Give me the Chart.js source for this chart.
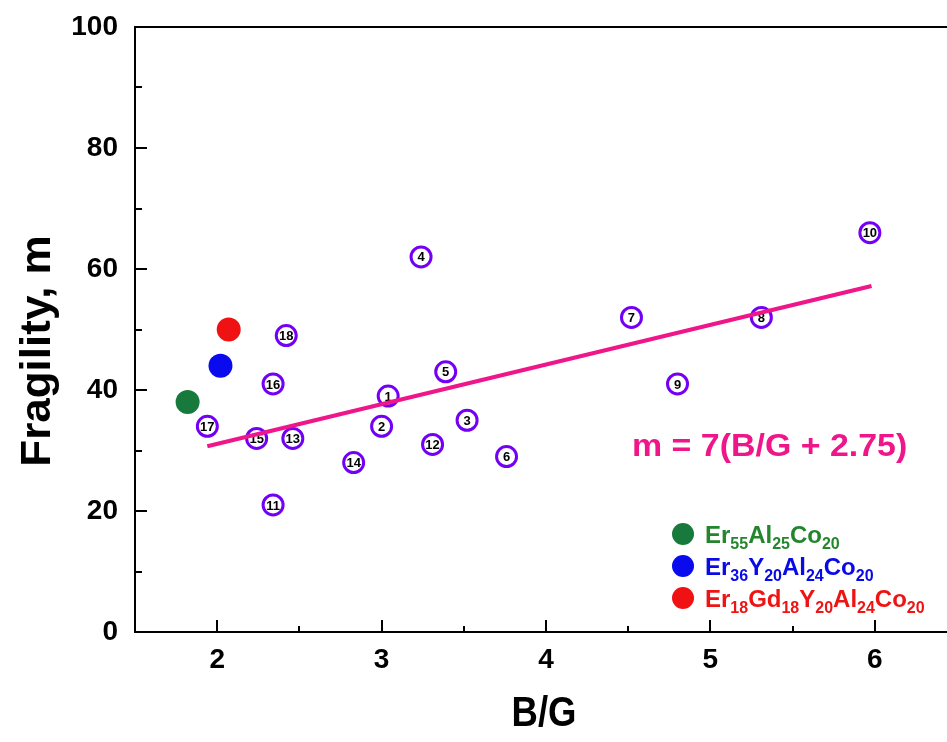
<!DOCTYPE html>
<html>
<head>
<meta charset="utf-8">
<script src="https://cdn.jsdelivr.net/npm/chart.js@4.4.0/dist/chart.umd.min.js"></script>
<style>
html,body{margin:0;padding:0;background:#fff;overflow:hidden;}
#wrap{width:970px;height:742px;}
</style>
</head>
<body>
<div id="wrap"><canvas id="c" width="970" height="742"></canvas></div>
<script>
// numbered samples (B/G, fragility m)
var sampleNo   = [1,2,3,4,5,6,7,8,9,10,11,12,13,14,15,16,17,18];
var sampleBG   = [3.04,3.00,3.52,3.24,3.39,3.76,4.52,5.31,4.80,5.97,2.34,3.31,2.46,2.83,2.24,2.34,1.94,2.42];
var sampleM    = [39,34,35,62,43,29,52,52,41,66,21,31,32,28,32,41,34,49];

// present alloys
var alloyNames = [['Er','55','Al','25','Co','20'],
                  ['Er','36','Y','20','Al','24','Co','20'],
                  ['Er','18','Gd','18','Y','20','Al','24','Co','20']];
var alloyBG    = [1.82,2.02,2.07];
var alloyM     = [38,44,50];
var alloyColor = ['#177a3c','#0a0aee','#f01212'];
var alloyText  = ['#24862c','#0a0ae6','#ee1414'];

// linear fit line end points
var fitBG = [1.94,5.98];
var fitM  = [30.7,57.2];

var xTicks = [2,3,4,5,6];
var yTicks = [0,20,40,60,80,100];

var purple = '#7300f5';
var pink = '#ef168a';

var samplePts = sampleBG.map(function(v,i){return {x:v,y:sampleM[i]};});
var fitPts = fitBG.map(function(v,i){return {x:v,y:fitM[i]};});

var datasets = [{
    type:'line', data:fitPts, borderColor:pink, borderWidth:4,
    pointRadius:0, order:0
},{
    data:samplePts, pointRadius:10, pointBorderWidth:3,
    borderColor:purple, backgroundColor:'#fff', order:1
}];
for(var i=0;i<alloyBG.length;i++){
    datasets.push({
        data:[{x:alloyBG[i],y:alloyM[i]}], pointRadius:12, pointBorderWidth:0,
        backgroundColor:alloyColor[i], borderColor:alloyColor[i], order:2
    });
}

var decor = {
    id:'decor',
    afterDatasetDraw:function(chart,args){
        if(args.index!==1) return;
        var ctx=chart.ctx, xs=chart.scales.x, ys=chart.scales.y;
        ctx.save();
        ctx.fillStyle='#000';
        ctx.font='bold 13px "Liberation Sans", Arial, sans-serif';
        ctx.textAlign='center';
        ctx.textBaseline='middle';
        for(var i=0;i<sampleNo.length;i++){
            ctx.fillText(String(sampleNo[i]), xs.getPixelForValue(sampleBG[i]), ys.getPixelForValue(sampleM[i])+1);
        }
        ctx.restore();
    },
    afterDraw:function(chart){
        var ctx=chart.ctx, a=chart.chartArea, xs=chart.scales.x, ys=chart.scales.y;
        ctx.save();
        ctx.strokeStyle='#000';
        ctx.lineWidth=2;
        // top frame line
        ctx.beginPath();
        ctx.moveTo(a.left-1,a.top);ctx.lineTo(a.right,a.top);
        ctx.moveTo(a.right,a.top);ctx.lineTo(a.right,a.bottom);
        ctx.stroke();
        // inward ticks
        ctx.beginPath();
        for(var v=1.5;v<=6.5;v+=0.5){
            var px=Math.round(xs.getPixelForValue(v));
            var len=(v%1===0)?12:6;
            ctx.moveTo(px,a.bottom);ctx.lineTo(px,a.bottom-len);
        }
        for(var w=0;w<=100;w+=10){
            var py=Math.round(ys.getPixelForValue(w));
            var l2=(w%20===0)?12:7;
            ctx.moveTo(a.left,py);ctx.lineTo(a.left+l2,py);
        }
        ctx.stroke();

        // axis titles
        ctx.fillStyle='#000';
        ctx.font='bold 42px "Liberation Sans", Arial, sans-serif';
        ctx.textAlign='center';
        ctx.textBaseline='alphabetic';
        ctx.save();
        ctx.translate((a.left+a.right)/2-2,726);
        ctx.scale(0.87,1);
        ctx.fillText('B/G',0,0);
        ctx.restore();
        ctx.save();
        ctx.translate(50,351);
        ctx.rotate(-Math.PI/2);
        ctx.font='bold 44px "Liberation Sans", Arial, sans-serif';
        ctx.scale(1,0.95);
        ctx.fillText('Fragility, m',0,0);
        ctx.restore();

        // fit equation
        ctx.fillStyle=pink;
        ctx.save();
        ctx.translate(632,456);
        ctx.scale(1.06,1);
        ctx.font='bold 32px "Liberation Sans", Arial, sans-serif';
        ctx.textAlign='left';
        ctx.fillText('m = 7(B/G + 2.75)',0,0);
        ctx.restore();

        // legend
        var rowY=[534,566,598];
        ctx.textAlign='left';
        for(var i=0;i<alloyNames.length;i++){
            ctx.fillStyle=alloyColor[i];
            ctx.beginPath();
            ctx.arc(683,rowY[i],11,0,Math.PI*2);
            ctx.fill();
            ctx.fillStyle=alloyText[i];
            var x=705, base=rowY[i]+9;
            var parts=alloyNames[i];
            for(var k=0;k<parts.length;k++){
                if(k%2===0){
                    ctx.font='bold 24px "Liberation Sans", Arial, sans-serif';
                    ctx.fillText(parts[k],x,base);
                }else{
                    ctx.font='bold 16px "Liberation Sans", Arial, sans-serif';
                    ctx.fillText(parts[k],x,base+6);
                }
                x+=ctx.measureText(parts[k]).width;
            }
        }
        ctx.restore();
    }
};

var tickFont={family:'"Liberation Sans", Arial, sans-serif',size:28,weight:'bold'};

var chart=new Chart(document.getElementById('c').getContext('2d'),{
    type:'scatter',
    data:{datasets:datasets},
    options:{
        responsive:false,
        animation:false,
        layout:{padding:{left:0,right:13,top:27,bottom:0}},
        plugins:{legend:{display:false},tooltip:{enabled:false}},
        scales:{
            x:{
                type:'linear', min:1.5, max:6.5,
                afterBuildTicks:function(s){s.ticks=xTicks.map(function(v){return {value:v};});},
                afterFit:function(s){s.height=110;s.paddingLeft=0;s.paddingRight=0;},
                grid:{display:false,drawTicks:false},
                border:{display:true,color:'#000',width:2},
                ticks:{color:'#000',font:tickFont,padding:11,maxRotation:0}
            },
            y:{
                type:'linear', min:0, max:100,
                afterBuildTicks:function(s){s.ticks=yTicks.map(function(v){return {value:v};});},
                afterFit:function(s){s.width=135;s.paddingTop=0;s.paddingBottom=0;},
                grid:{display:false,drawTicks:false},
                border:{display:true,color:'#000',width:2},
                ticks:{color:'#000',font:tickFont,padding:17}
            }
        }
    },
    plugins:[decor]
});
</script>
</body>
</html>
